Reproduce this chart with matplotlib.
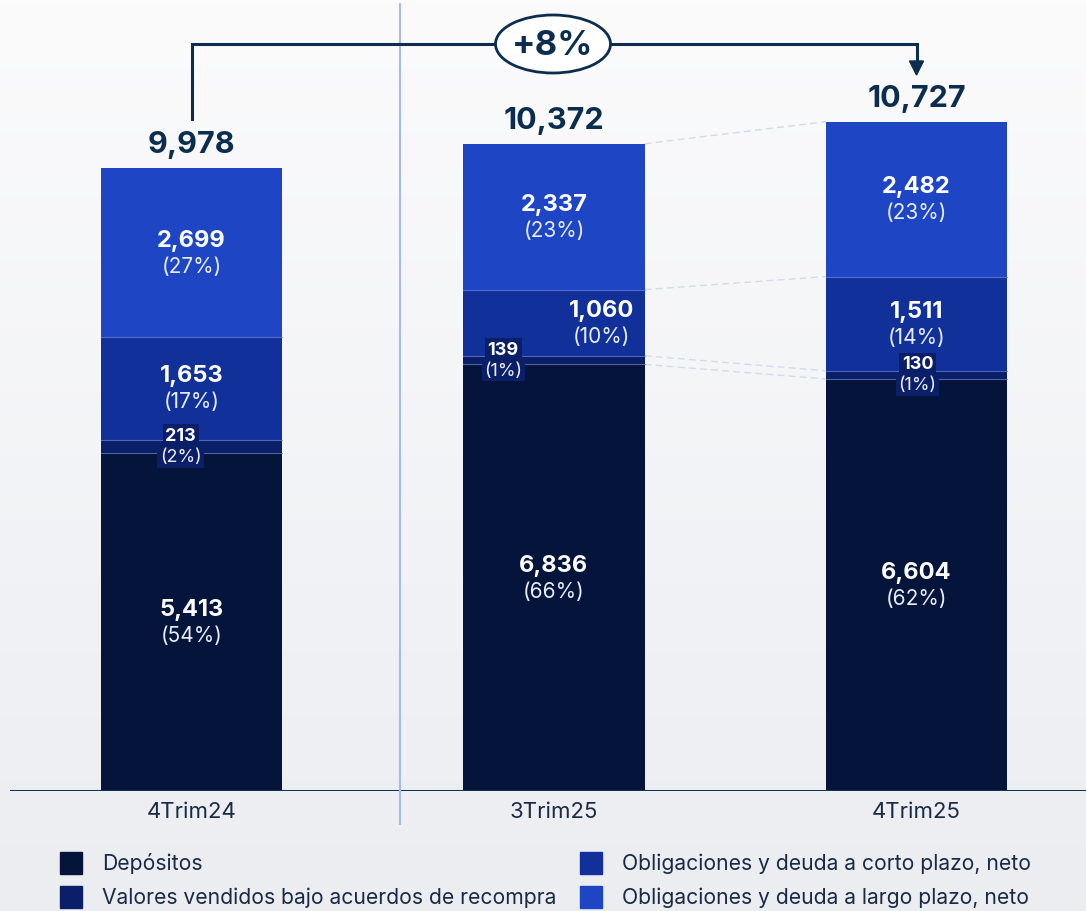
import numpy as np
import matplotlib
matplotlib.use('Agg')
import matplotlib.pyplot as plt
from matplotlib.patches import Ellipse, Rectangle

plt.rcParams['font.family'] = ['Inter', 'DejaVu Sans']

categories = ['4Trim24', '3Trim25', '4Trim25']
series_names = ['Depósitos',
                'Valores vendidos bajo acuerdos de recompra',
                'Obligaciones y deuda a corto plazo, neto',
                'Obligaciones y deuda a largo plazo, neto']
depositos = [5413, 6836, 6604]
valores = [213, 139, 130]
corto = [1653, 1060, 1511]
largo = [2699, 2337, 2482]
pct_depositos = ['54%', '66%', '62%']
pct_valores = ['2%', '1%', '1%']
pct_corto = ['17%', '10%', '14%']
pct_largo = ['27%', '23%', '23%']
totals = [9978, 10372, 10727]
growth_label = '+8%'

colors = ['#04143b', '#0b1e68', '#12309a', '#1e46c4']
navy = '#0c2d4e'
text_dark = '#1a2a45'

W, H = 1086, 912
fig = plt.figure(figsize=(W / 100, H / 100), dpi=100)

# background gradient
bg = fig.add_axes([0, 0, 1, 1], zorder=-10)
grad = np.linspace(0, 1, 256).reshape(-1, 1)
top_c = np.array([0xfb, 0xfb, 0xfc]) / 255
bot_c = np.array([0xeb, 0xed, 0xf1]) / 255
img = top_c + (bot_c - top_c) * grad[:, :, None]
bg.imshow(img, aspect='auto', extent=[0, 1, 0, 1])
bg.axis('off')

# main axes: baseline at y=792px, x centers at 191.5, 553.5, 916.5 px
base_px = 792
ax = fig.add_axes([10 / W, 1 - base_px / H, 1 - 10 / W, base_px / H])
ax.patch.set_alpha(0)
upx = 1 / 0.0624  # data units per pixel
ax.set_ylim(0, base_px * upx)
step = 362.5
ax.set_xlim(-(191.5 - 10) / step, (W - 191.5) / step)
for s in ax.spines.values():
    s.set_visible(False)
ax.set_xticks([])
ax.set_yticks([])

x = np.arange(len(categories))
bw = 0.5
stack = [depositos, valores, corto, largo]
pcts = [pct_depositos, pct_valores, pct_corto, pct_largo]
bottoms = np.zeros(len(categories))
tops_list = []
for vals, c, name in zip(stack, colors, series_names):
    ax.bar(x, vals, bw, bottom=bottoms, color=c, edgecolor='none', label=name, zorder=2)
    bottoms = bottoms + np.array(vals)
    tops_list.append(bottoms.copy())

# thin separators between segments
for tops in tops_list[:-1]:
    for i in range(len(x)):
        ax.plot([x[i] - bw / 2, x[i] + bw / 2], [tops[i], tops[i]], color='#6f86d6',
                lw=0.8, alpha=0.7, zorder=3)

# dashed connectors between 3Trim25 and 4Trim25
for tops in tops_list:
    ax.plot([x[1] + bw / 2, x[2] - bw / 2], [tops[1], tops[2]], color='#d3dae8',
            lw=1, ls=(0, (5, 3)), zorder=1)

# segment labels
for k, (vals, pc) in enumerate(zip(stack, pcts)):
    bot = tops_list[k] - np.array(vals)
    for i in range(len(x)):
        cy = bot[i] + vals[i] / 2
        xi = x[i]
        if k == 2 and i == 1:
            xi = x[i] + 0.13
        if k == 1:
            xi = [x[0] - 0.03, x[1] - 0.14, x[2] + 0.003][i]
            box = dict(boxstyle='square,pad=0.15', fc=colors[1], ec='none')
            ax.text(xi, cy + 11 * upx, f'{vals[i]:,}', ha='center', va='center',
                    color='white', fontsize=13, fontweight='bold', zorder=5,
                    bbox=box)
            ax.text(xi, cy - 10 * upx, f'({pc[i]})', ha='center', va='center',
                    color='#e8ecf7', fontsize=13, zorder=5,
                    bbox=box)
        else:
            ax.text(xi, cy + 13 * upx, f'{vals[i]:,}', ha='center', va='center',
                    color='white', fontsize=17, fontweight='bold', zorder=5)
            ax.text(xi, cy - 13 * upx, f'({pc[i]})', ha='center', va='center',
                    color='#e8ecf7', fontsize=15, zorder=5)

# totals
for i in range(len(x)):
    ax.text(x[i], totals[i] + 24 * upx, f'{totals[i]:,}', ha='center', va='center',
            color=navy, fontsize=22, fontweight='bold')

# baseline
ax.axhline(0, color='#0c3556', lw=2.2, zorder=4)

# category labels
for i, cat in enumerate(categories):
    fig.text((191.5 + step * i) / W, 1 - 812 / H, cat, ha='center', va='center',
             color=text_dark, fontsize=16)

# vertical separator
fig.add_artist(plt.Line2D([400 / W, 400 / W], [1 - 5 / H, 1 - 825 / H],
                          color='#a8b9ee', lw=1.5))

# growth bracket
y_br = 1 - 45 / H
x0f, x1f = 191.5 / W, 916.5 / W
fig.add_artist(plt.Line2D([x0f, x0f, x1f, x1f], [1 - 120 / H, y_br, y_br, 1 - 62 / H],
                          color=navy, lw=2.2, solid_joinstyle='miter'))
ax_top = fig.add_axes([0, 0, 1, 1], zorder=5)
ax_top.set_xlim(0, W)
ax_top.set_ylim(H, 0)
ax_top.axis('off')
ax_top.fill([916.5 - 7, 916.5 + 7, 916.5], [62, 62, 76], color=navy)
ax_top.add_patch(Ellipse((553, 45), 115, 58, fc='white', ec=navy, lw=2))
ax_top.text(553, 46, growth_label, ha='center', va='center', color=navy,
            fontsize=25, fontweight='bold')

# legend
leg_items = [(60, 864, 0), (580, 864, 2), (60, 898, 1), (580, 898, 3)]
for lx, ly, k in leg_items:
    ax_top.add_patch(Rectangle((lx, ly - 11), 22, 22, color=colors[k]))
    ax_top.text(lx + 42, ly, series_names[k], ha='left', va='center',
                color=text_dark, fontsize=15.2)

fig.savefig('out.png', dpi=100)
